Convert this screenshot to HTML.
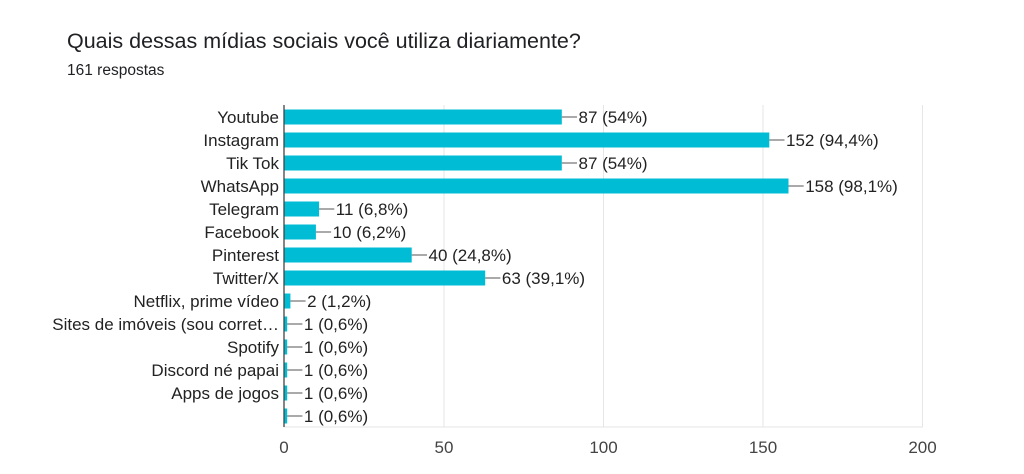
<!DOCTYPE html>
<html><head><meta charset="utf-8"><style>
html,body{margin:0;padding:0;background:#fff;}
svg{display:block;font-family:"Liberation Sans",Arial,sans-serif;}
</style></head><body>
<svg width="1024" height="474" xmlns="http://www.w3.org/2000/svg">
<text x="67" y="48" font-size="21.5" fill="#202124">Quais dessas mídias sociais você utiliza diariamente?</text>
<text x="67" y="75" font-size="15.5" fill="#202124">161 respostas</text>
<g stroke="#e6e6e6" stroke-width="1">
<line x1="444" y1="105" x2="444" y2="427"/>
<line x1="603.5" y1="105" x2="603.5" y2="427"/>
<line x1="763" y1="105" x2="763" y2="427"/>
<line x1="922.5" y1="105" x2="922.5" y2="427"/>
<line x1="284" y1="427" x2="923" y2="427"/>
</g>
<g fill="#00bcd4">
<rect x="284" y="109.5" width="277.8" height="15"/>
<rect x="284" y="132.5" width="485.3" height="15"/>
<rect x="284" y="155.5" width="277.8" height="15"/>
<rect x="284" y="178.5" width="504.5" height="15"/>
<rect x="284" y="201.5" width="35.1" height="15"/>
<rect x="284" y="224.5" width="31.9" height="15"/>
<rect x="284" y="247.5" width="127.7" height="15"/>
<rect x="284" y="270.5" width="201.2" height="15"/>
<rect x="284" y="293.5" width="6.4" height="15"/>
<rect x="284" y="316.5" width="3.2" height="15"/>
<rect x="284" y="339.5" width="3.2" height="15"/>
<rect x="284" y="362.5" width="3.2" height="15"/>
<rect x="284" y="385.5" width="3.2" height="15"/>
<rect x="284" y="408.5" width="3.2" height="15"/>
</g>
<line x1="284" y1="105" x2="284" y2="427" stroke="#444" stroke-width="1.3"/>
<g font-size="17" fill="#444" text-anchor="middle">
<text x="284" y="453">0</text><text x="444" y="453">50</text><text x="603.5" y="453">100</text><text x="763" y="453">150</text><text x="922.5" y="453">200</text>
</g>
<g font-size="17" fill="#222" text-anchor="end">
<text x="279" y="123">Youtube</text>
<text x="279" y="146">Instagram</text>
<text x="279" y="169">Tik Tok</text>
<text x="279" y="192">WhatsApp</text>
<text x="279" y="215">Telegram</text>
<text x="279" y="238">Facebook</text>
<text x="279" y="261">Pinterest</text>
<text x="279" y="284">Twitter/X</text>
<text x="279" y="307">Netflix, prime vídeo</text>
<text x="279" y="330">Sites de imóveis (sou corret…</text>
<text x="279" y="353">Spotify</text>
<text x="279" y="376">Discord né papai</text>
<text x="279" y="399">Apps de jogos</text>
</g>
<g stroke="#555" stroke-width="1">
<line x1="561.8" y1="117" x2="577" y2="117"/>
<line x1="769.3" y1="140" x2="784.5" y2="140"/>
<line x1="561.8" y1="163" x2="577" y2="163"/>
<line x1="788.5" y1="186" x2="803.7" y2="186"/>
<line x1="319.1" y1="209" x2="334.3" y2="209"/>
<line x1="315.9" y1="232" x2="331.1" y2="232"/>
<line x1="411.7" y1="255" x2="427" y2="255"/>
<line x1="485.2" y1="278" x2="500.4" y2="278"/>
<line x1="290.4" y1="301" x2="305.6" y2="301"/>
<line x1="287.2" y1="324" x2="302.4" y2="324"/>
<line x1="287.2" y1="347" x2="302.4" y2="347"/>
<line x1="287.2" y1="370" x2="302.4" y2="370"/>
<line x1="287.2" y1="393" x2="302.4" y2="393"/>
<line x1="287.2" y1="416" x2="302.4" y2="416"/>
</g>
<g font-size="17" fill="#222">
<text x="578.5" y="123">87 (54%)</text>
<text x="786" y="146">152 (94,4%)</text>
<text x="578.5" y="169">87 (54%)</text>
<text x="805.2" y="192">158 (98,1%)</text>
<text x="335.8" y="215">11 (6,8%)</text>
<text x="332.6" y="238">10 (6,2%)</text>
<text x="428.5" y="261">40 (24,8%)</text>
<text x="501.9" y="284">63 (39,1%)</text>
<text x="307.1" y="307">2 (1,2%)</text>
<text x="303.9" y="330">1 (0,6%)</text>
<text x="303.9" y="353">1 (0,6%)</text>
<text x="303.9" y="376">1 (0,6%)</text>
<text x="303.9" y="399">1 (0,6%)</text>
<text x="303.9" y="422">1 (0,6%)</text>
</g>
</svg>
</body></html>
